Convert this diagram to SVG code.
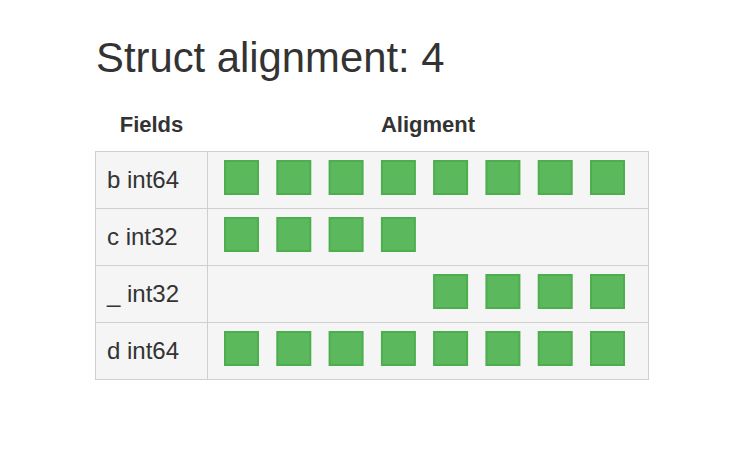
<svg xmlns="http://www.w3.org/2000/svg" width="750" height="450" viewBox="0 0 750 450">
<defs>
<style>
.t{font-family:"Liberation Sans",Arial,sans-serif;fill:#333}
.title{font-size:41.8px}
.th{font-size:22px;font-weight:bold;text-anchor:middle}
.td{font-size:24px}
.cell{fill:#f5f5f5;stroke:#cfcfcf;stroke-width:1}
.sq{fill:#5cb85c;stroke:#4cae4c;stroke-width:2}
</style>
<rect id="sq" class="sq" x="1" y="1" width="33" height="33"/>
</defs>
<rect width="750" height="450" fill="#fff"/>
<text class="t title" x="96" y="72">Struct alignment: 4</text>
<g id="header">
<text class="t th" x="151.5" y="132">Fields</text>
<text class="t th" x="428" y="132">Aligment</text>
</g>
<g id="table">
<rect class="cell" x="95.5" y="151.5" width="112" height="57"/>
<rect class="cell" x="207.5" y="151.5" width="441" height="57"/>
<rect class="cell" x="95.5" y="208.5" width="112" height="57"/>
<rect class="cell" x="207.5" y="208.5" width="441" height="57"/>
<rect class="cell" x="95.5" y="265.5" width="112" height="57"/>
<rect class="cell" x="207.5" y="265.5" width="441" height="57"/>
<rect class="cell" x="95.5" y="322.5" width="112" height="57"/>
<rect class="cell" x="207.5" y="322.5" width="441" height="57"/>
</g>
<g id="row-b">
<text class="t td" x="107" y="188">b int64</text>
<use href="#sq" x="224" y="160"/><use href="#sq" x="276.3" y="160"/><use href="#sq" x="328.6" y="160"/><use href="#sq" x="380.9" y="160"/>
<use href="#sq" x="433.1" y="160"/><use href="#sq" x="485.4" y="160"/><use href="#sq" x="537.7" y="160"/><use href="#sq" x="590" y="160"/>
</g>
<g id="row-c">
<text class="t td" x="107" y="245">c int32</text>
<use href="#sq" x="224" y="217"/><use href="#sq" x="276.3" y="217"/><use href="#sq" x="328.6" y="217"/><use href="#sq" x="380.9" y="217"/>
</g>
<g id="row-pad">
<text class="t td" x="107" y="302">_ int32</text>
<use href="#sq" x="433.1" y="274"/><use href="#sq" x="485.4" y="274"/><use href="#sq" x="537.7" y="274"/><use href="#sq" x="590" y="274"/>
</g>
<g id="row-d">
<text class="t td" x="107" y="359">d int64</text>
<use href="#sq" x="224" y="331"/><use href="#sq" x="276.3" y="331"/><use href="#sq" x="328.6" y="331"/><use href="#sq" x="380.9" y="331"/>
<use href="#sq" x="433.1" y="331"/><use href="#sq" x="485.4" y="331"/><use href="#sq" x="537.7" y="331"/><use href="#sq" x="590" y="331"/>
</g>
</svg>
